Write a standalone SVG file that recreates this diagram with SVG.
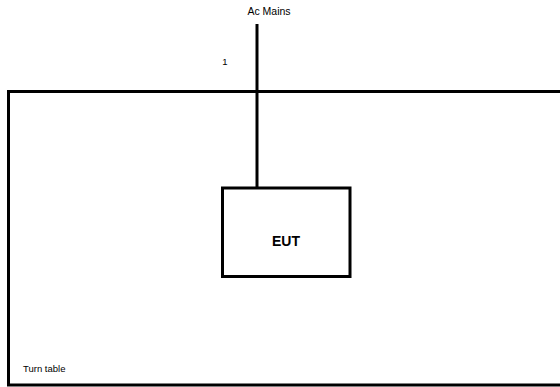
<svg xmlns="http://www.w3.org/2000/svg" width="560" height="387" viewBox="0 0 560 387">
<style>
.ln{stroke:#000;stroke-width:3;fill:none}
.t{font-family:"Liberation Sans",Arial,sans-serif;fill:#000}
</style>
<rect width="560" height="387" fill="#fff"/>
<g id="turntable">
<rect class="ln" x="8.5" y="91.5" width="560" height="293.5"/>
<text class="t" x="23" y="372" font-size="9.5">Turn table</text>
</g>
<g id="connectors">
<line class="ln" x1="257" y1="24" x2="257" y2="188"/>
<text class="t" x="225" y="65" font-size="9.5" text-anchor="middle">1</text>
</g>
<g id="acmains">
<text class="t" x="269" y="15" font-size="10.5" text-anchor="middle">Ac Mains</text>
</g>
<g id="eut">
<rect class="ln" x="222.5" y="188" width="127.5" height="88.5"/>
<text class="t" x="286" y="246" font-size="15" font-weight="bold" text-anchor="middle" textLength="28" lengthAdjust="spacingAndGlyphs">EUT</text>
</g>
</svg>
